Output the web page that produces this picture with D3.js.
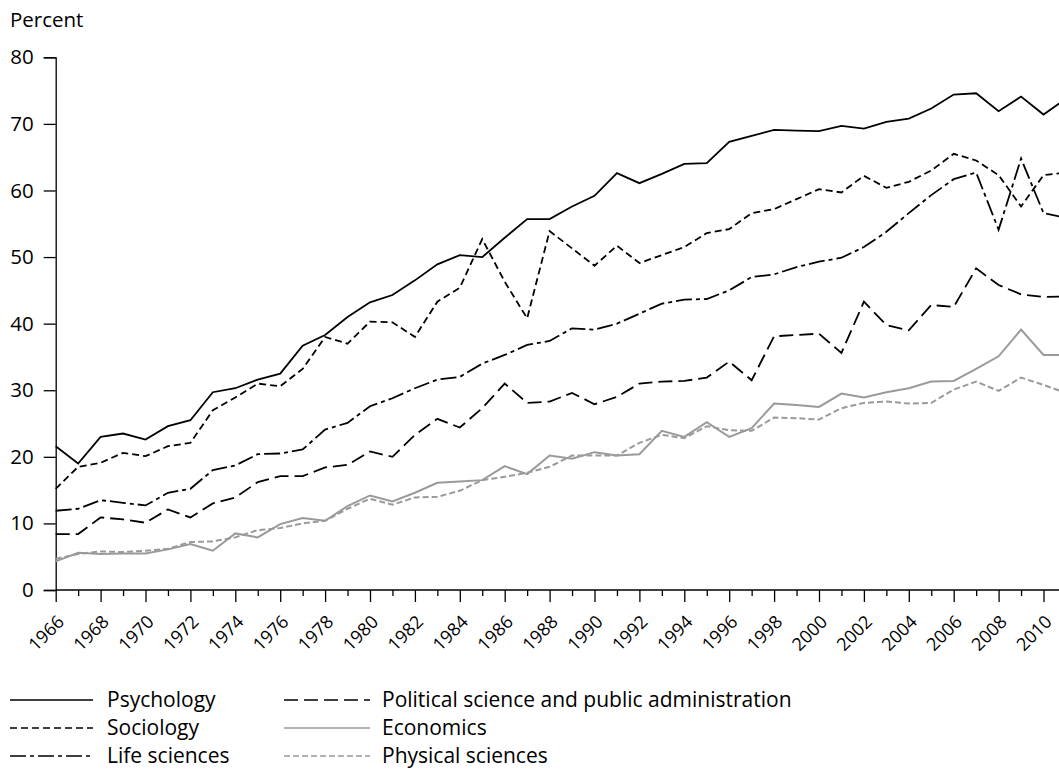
<!DOCTYPE html>
<html><head><meta charset="utf-8">
<script src="https://cdn.jsdelivr.net/npm/d3@7"></script>
<style>
html,body{margin:0;padding:0;background:#fff;}
svg{display:block;font-family:"Open Sans","Noto Sans",sans-serif;}
</style></head>
<body>
<svg id="chart" width="1059" height="769"></svg>
<script>
const years = [1966,1967,1968,1969,1970,1971,1972,1973,1974,1975,1976,1977,1978,1979,1980,1981,1982,1983,1984,1985,1986,1987,1988,1989,1990,1991,1992,1993,1994,1995,1996,1997,1998,1999,2000,2001,2002,2003,2004,2005,2006,2007,2008,2009,2010,2011];
const labelYears = [1966,1968,1970,1972,1974,1976,1978,1980,1982,1984,1986,1988,1990,1992,1994,1996,1998,2000,2002,2004,2006,2008,2010];
const yTicks = [0,10,20,30,40,50,60,70,80];

const psychology = [21.6,19.0,23.0,23.5,22.6,24.6,25.5,29.7,30.3,31.6, 32.5,36.7,38.3,41.0,43.2,44.3,46.5,48.9,50.3,50.0, 52.9,55.7,55.7,57.6,59.2,62.6,61.1,62.5,64.0,64.1, 67.3,68.2,69.1,69.0,68.9,69.7,69.3,70.3,70.8,72.3, 74.4,74.6,71.9,74.1,71.4,73.8];
const sociology = [15.2,18.5,19.1,20.6,20.1,21.6,22.1,27.0,28.9,31.0, 30.6,33.2,38.0,37.0,40.3,40.2,38.0,43.3,45.4,52.7, 46.3,40.8,53.9,51.3,48.7,51.7,49.1,50.3,51.5,53.6, 54.2,56.6,57.2,58.7,60.2,59.7,62.2,60.4,61.3,63.0, 65.5,64.5,62.3,57.6,62.3,62.7];
const lifeSciences = [11.9,12.2,13.5,13.1,12.7,14.6,15.2,18.0,18.7,20.4, 20.5,21.1,24.1,25.1,27.6,28.8,30.3,31.6,32.0,34.0, 35.3,36.8,37.4,39.3,39.1,40.0,41.5,43.0,43.6,43.7, 45.0,47.0,47.4,48.5,49.3,49.9,51.5,53.8,56.6,59.3, 61.7,62.7,54.1,64.8,56.6,55.9];
const politicalScience = [8.4,8.4,10.9,10.6,10.1,12.1,10.9,13.0,13.9,16.2, 17.1,17.1,18.4,18.8,20.8,20.0,23.3,25.7,24.4,27.3, 31.0,28.1,28.3,29.6,27.9,29.0,31.0,31.3,31.4,31.9, 34.3,31.5,38.1,38.3,38.5,35.6,43.3,39.8,39.0,42.8, 42.5,48.3,45.8,44.4,44.0,44.1];
const economics = [4.3,5.6,5.4,5.5,5.5,6.1,6.9,5.9,8.5,7.9, 9.9,10.8,10.4,12.6,14.2,13.3,14.6,16.1,16.3,16.5, 18.6,17.4,20.2,19.7,20.7,20.2,20.4,23.9,23.0,25.2, 23.0,24.3,28.0,27.8,27.5,29.5,28.9,29.7,30.3,31.3, 31.4,33.2,35.1,39.1,35.3,35.3];
const physicalSciences = [4.7,5.4,5.8,5.7,5.9,6.2,7.2,7.3,7.9,9.0, 9.3,10.0,10.4,12.2,13.7,12.8,13.9,14.0,14.9,16.5, 17.0,17.6,18.5,20.2,20.2,20.2,22.1,23.3,22.8,24.6, 24.0,23.9,25.9,25.8,25.6,27.3,28.1,28.3,28.0,28.1, 30.1,31.3,29.9,31.9,30.8,29.6];

const seriesNames = ["Psychology","Sociology","Life sciences","Political science and public administration","Economics","Physical sciences"];

const styles = {
  "Psychology": {color:"#000", dash:null, w:1.8},
  "Sociology": {color:"#000", dash:"7,4", w:1.8},
  "Life sciences": {color:"#000", dash:"16,4,4,4", w:1.8},
  "Political science and public administration": {color:"#000", dash:"14,6", w:1.8},
  "Economics": {color:"#9a9a9a", dash:null, w:2},
  "Physical sciences": {color:"#9a9a9a", dash:"6,3", w:2}
};
const dataMap = {
  "Psychology": psychology, "Sociology": sociology, "Life sciences": lifeSciences,
  "Political science and public administration": politicalScience,
  "Economics": economics, "Physical sciences": physicalSciences
};

const svg = d3.select("#chart");
const x = d3.scaleLinear().domain([1966, 2010]).range([55.7, 1043.5]);
const y = d3.scaleLinear().domain([0, 80]).range([590, 57.3]);

const FS = 20.5;
const FS_X = 18;
const FS_LEG = 21;
const FF = "'Open Sans','Noto Sans',sans-serif";

// y axis
const yAxis = svg.append("g").attr("transform","translate(55.7,0)")
  .call(d3.axisLeft(y).tickValues(yTicks).tickSize(12).tickPadding(10).tickFormat(d3.format("d")));
yAxis.select(".domain").attr("stroke","#000").attr("stroke-width",1.3);
yAxis.selectAll(".tick line").attr("stroke","#000").attr("stroke-width",1.3);
yAxis.selectAll("text").attr("font-size",FS).attr("fill","#000").attr("font-family",FF);

// x axis - odd year minor ticks
const xMinor = svg.append("g").attr("transform","translate(0,590)")
  .call(d3.axisBottom(x).tickValues(years.filter(v => labelYears.indexOf(v) < 0)).tickSize(6).tickFormat(""));
xMinor.select(".domain").remove();
xMinor.selectAll(".tick line").attr("stroke","#000").attr("stroke-width",1.3);

const xAxis = svg.append("g").attr("transform","translate(0,590)")
  .call(d3.axisBottom(x).tickValues(labelYears).tickSize(12).tickSizeOuter(0).tickFormat(d3.format("d")));
xAxis.select(".domain").attr("stroke","#000").attr("stroke-width",1.3).attr("d","M55.7,0H1070");
xAxis.selectAll(".tick line").attr("stroke","#000").attr("stroke-width",1.3);
xAxis.selectAll("text")
  .attr("font-size",FS_X).attr("fill","#000").attr("font-family",FF)
  .attr("text-anchor","end").attr("dy",null).attr("y",0).attr("x",0)
  .attr("transform","translate(9,33) rotate(-45)");

// Percent label
svg.append("text").attr("x",10).attr("y",27).attr("font-size",FS).attr("font-family",FF).attr("fill","#000").text("Percent");

// lines
const line = d3.line().x((d,i) => x(years[i])).y(d => y(d));
const drawOrder = ["Economics","Physical sciences","Political science and public administration","Life sciences","Sociology","Psychology"];
drawOrder.forEach(name => {
  const s = styles[name];
  svg.append("path").datum(dataMap[name])
    .attr("fill","none").attr("stroke",s.color).attr("stroke-width",s.w)
    .attr("stroke-dasharray",s.dash).attr("stroke-linejoin","miter")
    .attr("d",line);
});

// legend
const legendPos = [
  {name:"Psychology", lx:10, ly:700, len:83, tx:107},
  {name:"Sociology", lx:10, ly:728, len:83, tx:107},
  {name:"Life sciences", lx:10, ly:756, len:83, tx:107},
  {name:"Political science and public administration", lx:284, ly:700, len:86, tx:382},
  {name:"Economics", lx:284, ly:728, len:86, tx:382},
  {name:"Physical sciences", lx:284, ly:756, len:86, tx:382}
];
const lg = svg.append("g");
legendPos.forEach(p => {
  const s = styles[p.name];
  lg.append("line").attr("x1",p.lx).attr("x2",p.lx+p.len).attr("y1",p.ly).attr("y2",p.ly)
    .attr("stroke",s.color).attr("stroke-width",1.5).attr("stroke-dasharray",s.dash);
  lg.append("text").attr("x",p.tx).attr("y",p.ly).attr("dy","0.35em")
    .attr("font-size",FS_LEG).attr("font-family",FF).attr("fill","#000").text(p.name);
});
</script>
</body></html>
